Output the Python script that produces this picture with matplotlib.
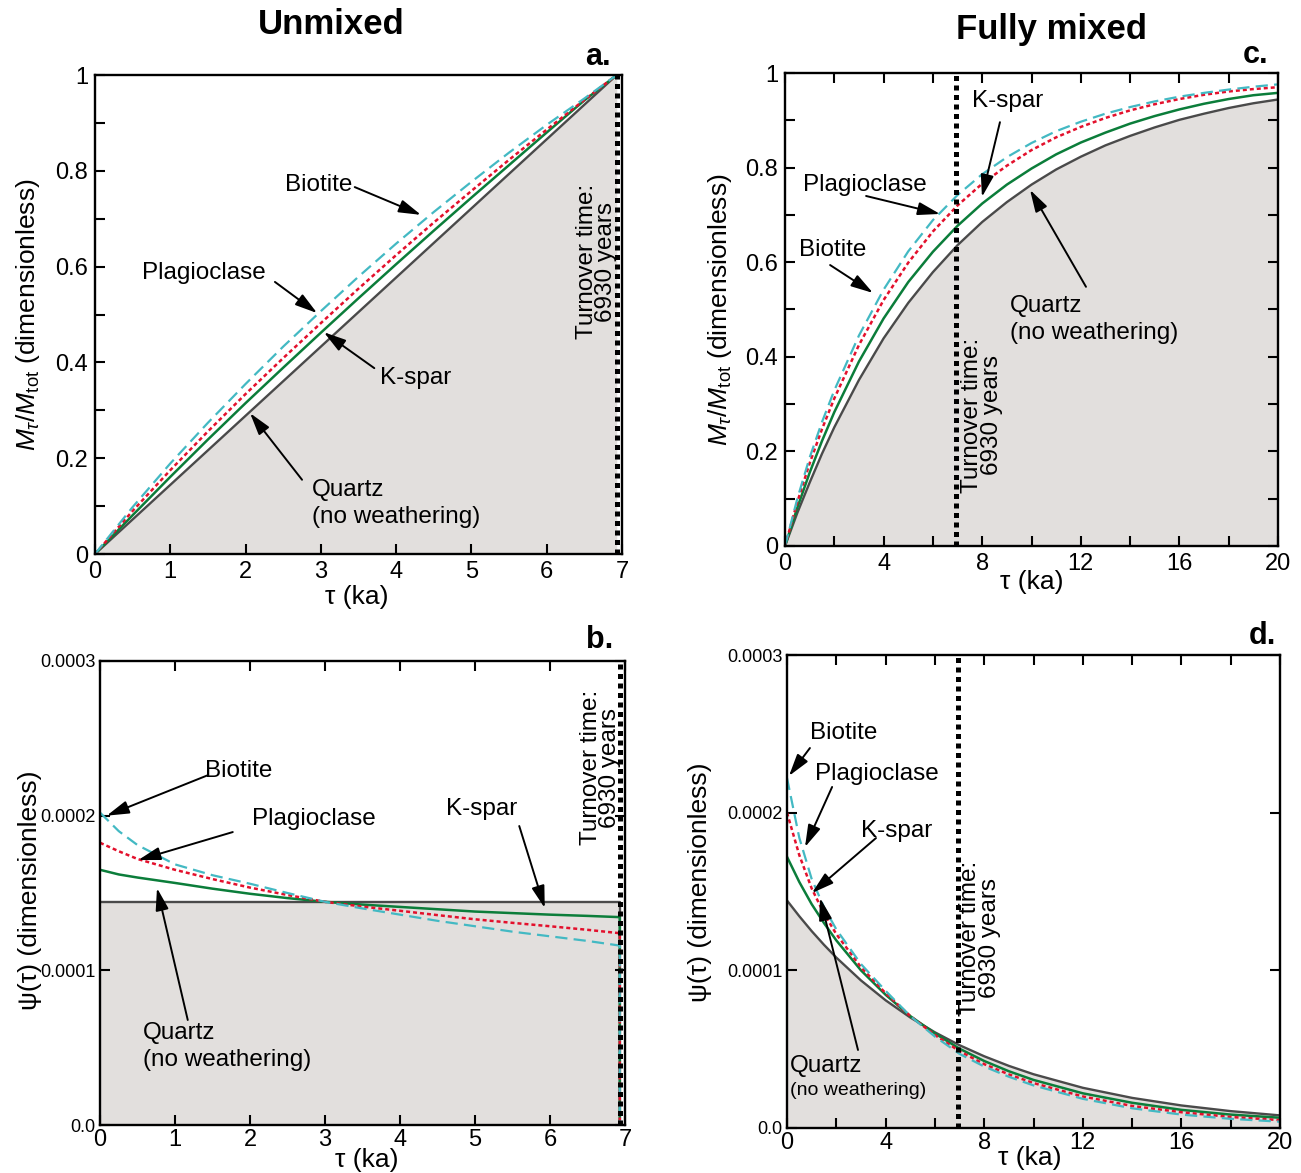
import numpy as np
import matplotlib
matplotlib.use('Agg')
import matplotlib.pyplot as plt
from matplotlib.ticker import MultipleLocator, FuncFormatter

plt.rcParams['font.family'] = ['Liberation Sans', 'DejaVu Sans']
plt.rcParams['mathtext.fontset'] = 'custom'
plt.rcParams['mathtext.rm'] = 'Liberation Sans'
plt.rcParams['mathtext.it'] = 'Liberation Sans:italic'

# ---- data ----
turnover = 6.93  # ka

# a. unmixed, cumulative mass fraction
tau_a = [0, 0.5, 1, 1.5, 2, 2.5, 3, 3.5, 4, 4.5, 5, 5.5, 6, 6.5, 6.93]
bio_a = [0, 0.098, 0.189, 0.274, 0.355, 0.433, 0.507, 0.579, 0.648, 0.714, 0.777, 0.838, 0.896, 0.951, 1.0]
pla_a = [0, 0.090, 0.175, 0.256, 0.334, 0.409, 0.482, 0.554, 0.624, 0.692, 0.758, 0.823, 0.886, 0.948, 1.0]
ksp_a = [0, 0.081, 0.161, 0.239, 0.315, 0.389, 0.462, 0.534, 0.605, 0.675, 0.744, 0.812, 0.880, 0.947, 1.0]
qtz_tau_a = [0, 6.93]
qtz_a = [0, 1.0]

# b. unmixed, age distribution (1e-4 units)
tau_b = [0, 0.25, 0.5, 1, 1.5, 2, 2.5, 3, 3.5, 4, 4.5, 5, 5.5, 6, 6.5, 6.93, 6.93]
bio_b = [2.02, 1.90, 1.81, 1.685, 1.615, 1.56, 1.50, 1.443, 1.40, 1.36, 1.32, 1.285, 1.25, 1.22, 1.19, 1.16, 0]
pla_b = [1.825, 1.77, 1.72, 1.65, 1.59, 1.535, 1.487, 1.443, 1.412, 1.385, 1.357, 1.33, 1.307, 1.285, 1.262, 1.24, 0]
ksp_b = [1.65, 1.62, 1.60, 1.565, 1.528, 1.495, 1.467, 1.443, 1.425, 1.41, 1.395, 1.38, 1.37, 1.36, 1.352, 1.344, 0]
qtz_tau_b = [0, 6.93, 6.93]
qtz_b = [1.443, 1.443, 0]

# c. fully mixed, cumulative mass fraction
tau_c = [0, 0.5, 1, 1.5, 2, 3, 4, 5, 6, 7, 8, 9, 10, 11, 12, 13, 14, 15, 16, 17, 18, 19, 20]
bio_c = [0, 0.100, 0.187, 0.262, 0.329, 0.445, 0.542, 0.623, 0.689, 0.742, 0.786, 0.822, 0.852,
         0.877, 0.897, 0.914, 0.928, 0.940, 0.950, 0.958, 0.965, 0.971, 0.976]
pla_c = [0, 0.093, 0.175, 0.247, 0.312, 0.425, 0.520, 0.599, 0.665, 0.720, 0.766, 0.804, 0.837,
         0.864, 0.886, 0.905, 0.921, 0.934, 0.945, 0.954, 0.961, 0.966, 0.970]
ksp_c = [0, 0.081, 0.155, 0.222, 0.283, 0.390, 0.481, 0.558, 0.622, 0.677, 0.724, 0.764, 0.798,
         0.828, 0.853, 0.874, 0.893, 0.909, 0.923, 0.935, 0.945, 0.953, 0.958]
qtz_c = [0, 0.070, 0.134, 0.195, 0.251, 0.351, 0.439, 0.514, 0.579, 0.636, 0.685, 0.727, 0.764,
         0.796, 0.823, 0.847, 0.867, 0.885, 0.901, 0.914, 0.926, 0.936, 0.944]

# d. fully mixed, age distribution (1e-4 units)
tau_d = [0, 0.5, 1, 1.5, 2, 3, 4, 5, 6, 7, 8, 9, 10, 12, 14, 16, 18, 20]
bio_d = [2.22, 1.84, 1.58, 1.40, 1.26, 1.04, 0.87, 0.71, 0.58, 0.470, 0.390, 0.325, 0.270, 0.185, 0.125, 0.085, 0.058, 0.040]
pla_d = [2.00, 1.73, 1.52, 1.36, 1.23, 1.02, 0.855, 0.71, 0.59, 0.487, 0.405, 0.340, 0.285, 0.200, 0.140, 0.100, 0.070, 0.050]
ksp_d = [1.72, 1.56, 1.42, 1.30, 1.19, 1.00, 0.845, 0.71, 0.60, 0.503, 0.425, 0.360, 0.305, 0.220, 0.160, 0.115, 0.085, 0.065]
qtz_d = [1.443, 1.343, 1.249, 1.162, 1.081, 0.936, 0.810, 0.701, 0.607, 0.525, 0.455, 0.394, 0.341, 0.255, 0.191, 0.143, 0.107, 0.080]

# ---- styles ----
c_bio = '#43b9c3'
c_pla = '#e3102c'
c_ksp = '#0b7d3a'
c_qtz = '#4a4a4a'
c_fill = '#e2dfdd'
ls_bio = (0, (5.5, 2.8))
ls_pla = (0, (1.6, 1.2))
W, H = 1301, 1173
txt = 17.5


def px_axes(fig, l, t, r, b):
    return fig.add_axes([l / W, 1 - b / H, (r - l) / W, (b - t) / H])


def frame(ax, xlim, ylim, allsides):
    ax.set_xlim(*xlim)
    ax.set_ylim(*ylim)
    for s in ax.spines.values():
        s.set_linewidth(1.7)
        s.set_zorder(6)
    ax.tick_params(which='both', direction='in', length=7, width=1.5,
                   labelsize=17, pad=5, top=allsides, right=allsides)


def arrow(ax, tail, tip):
    ax.annotate('', xy=tip, xytext=tail,
                arrowprops=dict(arrowstyle='-|>,head_length=0.75,head_width=0.22',
                                mutation_scale=18, color='k', lw=1.4,
                                shrinkA=0, shrinkB=0), zorder=7)


def curves(ax, t, bio, pla, ksp, qt, q, scale=1.0):
    ax.plot(qt, np.array(q) * scale, color=c_qtz, lw=1.7, zorder=3)
    ax.plot(t, np.array(ksp) * scale, color=c_ksp, lw=1.8, zorder=3)
    ax.plot(t, np.array(pla) * scale, color=c_pla, lw=1.8, ls=ls_pla, zorder=4)
    ax.plot(t, np.array(bio) * scale, color=c_bio, lw=1.6, ls=ls_bio, zorder=4)


def turn_line(ax):
    ax.axvline(turnover, color='k', lw=3.6, ls=(0, (1, 0.9)), zorder=5)


fig = plt.figure(figsize=(W / 100, H / 100), dpi=100)
fig.text(331 / W, 1 - 25 / H, 'Unmixed', fontsize=25, fontweight='bold', ha='center', va='center')
fig.text(1052 / W, 1 - 30 / H, 'Fully mixed', fontsize=25, fontweight='bold', ha='center', va='center')
for lab, x, y in [('a.', 598, 57), ('c.', 1256, 55), ('b.', 600, 640), ('d.', 1262, 636)]:
    fig.text(x / W, 1 - y / H, lab, fontsize=22, fontweight='bold', ha='center', va='center')

ylab_m = r'$M_{\tau}/M_{\mathrm{tot}}$ (dimensionless)'
ylab_p = 'ψ(τ) (dimensionless)'
gfmt = FuncFormatter(lambda v, p: '%g' % round(v, 3))
pfmt = FuncFormatter(lambda v, p: '0.0' if abs(v) < 1e-9 else '%.4f' % v)

# ---- a ----
ax = px_axes(fig, 95, 75, 622, 554)
frame(ax, (0, 7), (0, 1), False)
ax.fill_between(qtz_tau_a, qtz_a, 0, color=c_fill, lw=0, zorder=1)
curves(ax, tau_a, bio_a, pla_a, ksp_a, qtz_tau_a, qtz_a)
turn_line(ax)
ax.xaxis.set_major_locator(MultipleLocator(1))
ax.yaxis.set_major_locator(MultipleLocator(0.2))
ax.yaxis.set_minor_locator(MultipleLocator(0.1))
ax.yaxis.set_major_formatter(gfmt)
ax.set_xlabel('τ (ka)', fontsize=19)
ax.set_ylabel(ylab_m, fontsize=19)
ax.xaxis.set_label_coords(0.497, -0.065)
ax.yaxis.set_label_coords(-0.10, 0.5)
ax.text(2.52, 0.77, 'Biotite', fontsize=txt, va='center')
arrow(ax, (3.45, 0.766), (4.33, 0.708))
ax.text(0.63, 0.587, 'Plagioclase', fontsize=txt, va='center')
arrow(ax, (2.39, 0.568), (2.95, 0.503))
ax.text(3.79, 0.367, 'K-spar', fontsize=txt, va='center')
arrow(ax, (3.71, 0.388), (3.04, 0.463))
ax.text(2.88, 0.105, 'Quartz\n(no weathering)', fontsize=txt, va='center', linespacing=1.3)
arrow(ax, (2.75, 0.155), (2.06, 0.294))
ax.text(6.66, 0.61, 'Turnover time:\n6930 years', fontsize=txt, rotation=90,
        ha='center', va='center', multialignment='center', linespacing=0.85, zorder=8)

# ---- c ----
ax = px_axes(fig, 785, 73, 1278, 546)
frame(ax, (0, 20), (0, 1), True)
ax.fill_between(tau_c, qtz_c, 0, color=c_fill, lw=0, zorder=1)
curves(ax, tau_c, bio_c, pla_c, ksp_c, tau_c, qtz_c)
turn_line(ax)
ax.xaxis.set_major_locator(MultipleLocator(4))
ax.xaxis.set_minor_locator(MultipleLocator(2))
ax.yaxis.set_major_locator(MultipleLocator(0.2))
ax.yaxis.set_minor_locator(MultipleLocator(0.1))
ax.yaxis.set_major_formatter(gfmt)
ax.set_xlabel('τ (ka)', fontsize=19)
ax.set_ylabel(ylab_m, fontsize=19)
ax.xaxis.set_label_coords(0.5, -0.051)
ax.yaxis.set_label_coords(-0.103, 0.5)
ax.text(7.59, 0.941, 'K-spar', fontsize=txt, va='center')
arrow(ax, (8.72, 0.896), (7.99, 0.738))
ax.text(0.73, 0.763, 'Plagioclase', fontsize=txt, va='center')
arrow(ax, (3.29, 0.740), (6.29, 0.702))
ax.text(0.57, 0.626, 'Biotite', fontsize=txt, va='center')
arrow(ax, (1.83, 0.594), (3.57, 0.535))
ax.text(9.13, 0.478, 'Quartz\n(no weathering)', fontsize=txt, va='center', linespacing=1.3)
arrow(ax, (12.21, 0.548), (9.94, 0.753))
ax.text(8.0, 0.277, 'Turnover time:\n6930 years', fontsize=txt, rotation=90,
        ha='center', va='center', multialignment='center', linespacing=0.85, zorder=8)

# ---- b ----
ax = px_axes(fig, 100, 661, 625, 1125)
frame(ax, (0, 7), (0, 3e-4), True)
ax.fill_between(qtz_tau_b, np.array(qtz_b) * 1e-4, 0, color=c_fill, lw=0, zorder=1)
curves(ax, tau_b, bio_b, pla_b, ksp_b, qtz_tau_b, qtz_b, 1e-4)
turn_line(ax)
ax.xaxis.set_major_locator(MultipleLocator(1))
ax.yaxis.set_major_locator(MultipleLocator(1e-4))
ax.yaxis.set_major_formatter(pfmt)
ax.tick_params(axis='y', labelsize=13, pad=3)
ax.tick_params(axis='x', pad=3)
ax.set_xlabel('τ (ka)', fontsize=19)
ax.set_ylabel(ylab_p, fontsize=19)
ax.xaxis.set_label_coords(0.509, -0.050)
ax.yaxis.set_label_coords(-0.11, 0.506)
ax.text(1.4, 2.289e-4, 'Biotite', fontsize=txt, va='center')
arrow(ax, (1.43, 2.26e-4), (0.09, 2.0e-4))
ax.text(2.03, 1.978e-4, 'Plagioclase', fontsize=txt, va='center')
arrow(ax, (1.77, 1.894e-4), (0.51, 1.713e-4))
ax.text(4.61, 2.043e-4, 'K-spar', fontsize=txt, va='center')
arrow(ax, (5.59, 1.933e-4), (5.93, 1.403e-4))
ax.text(0.57, 0.505e-4, 'Quartz\n(no weathering)', fontsize=txt, va='center', linespacing=1.3)
arrow(ax, (1.17, 0.679e-4), (0.76, 1.532e-4))
ax.text(6.67, 2.31e-4, 'Turnover time:\n6930 years', fontsize=txt, rotation=90,
        ha='center', va='center', multialignment='center', linespacing=0.85, zorder=8)

# ---- d ----
ax = px_axes(fig, 787, 655, 1280, 1128)
frame(ax, (0, 20), (0, 3e-4), True)
ax.fill_between(tau_d, np.array(qtz_d) * 1e-4, 0, color=c_fill, lw=0, zorder=1)
curves(ax, tau_d, bio_d, pla_d, ksp_d, tau_d, qtz_d, 1e-4)
turn_line(ax)
ax.xaxis.set_major_locator(MultipleLocator(4))
ax.xaxis.set_minor_locator(MultipleLocator(2))
ax.yaxis.set_major_locator(MultipleLocator(1e-4))
ax.yaxis.set_major_formatter(pfmt)
ax.tick_params(axis='y', labelsize=13, pad=3)
ax.tick_params(axis='x', pad=3)
ax.set_xlabel('τ (ka)', fontsize=19)
ax.set_ylabel(ylab_p, fontsize=19)
ax.xaxis.set_label_coords(0.493, -0.038)
ax.yaxis.set_label_coords(-0.152, 0.52)
ax.text(0.93, 2.505e-4, 'Biotite', fontsize=txt, va='center')
arrow(ax, (0.93, 2.41e-4), (0.08, 2.233e-4))
ax.text(1.14, 2.245e-4, 'Plagioclase', fontsize=txt, va='center')
arrow(ax, (1.83, 2.163e-4), (0.73, 1.782e-4))
ax.text(3.0, 1.884e-4, 'K-spar', fontsize=txt, va='center')
arrow(ax, (3.61, 1.839e-4), (1.01, 1.49e-4))
ax.text(0.12, 0.393e-4, 'Quartz', fontsize=txt, va='center')
ax.text(0.12, 0.241e-4, '(no weathering)', fontsize=14, va='center')
arrow(ax, (2.88, 0.495e-4), (1.34, 1.459e-4))
ax.text(7.83, 1.205e-4, 'Turnover time:\n6930 years', fontsize=txt, rotation=90,
        ha='center', va='center', multialignment='center', linespacing=0.85, zorder=8)

fig.savefig('out.png', dpi=100)
